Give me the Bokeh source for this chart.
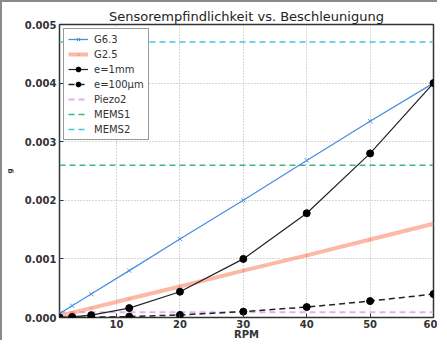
from bokeh.plotting import figure
from bokeh.models import FixedTicker, NumeralTickFormatter, Range1d, Legend, LegendItem
from bokeh.embed import file_html
from bokeh.resources import INLINE

rpm = [1, 3, 6, 12, 20, 30, 40, 50, 60]
g63 = [0.000067, 0.0002, 0.0004, 0.0008, 0.00134, 0.002, 0.00268, 0.00335, 0.004]
g25 = [0.000027, 0.00008, 0.00016, 0.00032, 0.00053, 0.0008, 0.00106, 0.00133, 0.0016]
e1mm = [0.000001, 0.00001, 0.00004, 0.00016, 0.00044, 0.001, 0.00178, 0.0028, 0.004]
e100um = [0.0000001, 0.000001, 0.000004, 0.000016, 0.000044, 0.0001, 0.000178, 0.00028, 0.0004]
piezo2 = 0.00009
mems1 = 0.0026
mems2 = 0.0047
x_ticks = [10, 20, 30, 40, 50, 60]
y_ticks = [0.0, 0.001, 0.002, 0.003, 0.004, 0.005]

FONT = "DejaVu Sans"

p = figure(width=437, height=340, output_backend="svg", toolbar_location=None,
           x_range=Range1d(1, 60), y_range=Range1d(0, 0.005),
           min_border_left=47, min_border_right=6, min_border_top=22, min_border_bottom=0,
           title="Sensorempfindlichkeit vs. Beschleunigung")
p.styles = {"border-left": "2px solid #8a8a8a", "border-top": "2px solid #8a8a8a"}
p.title.text_font = FONT
p.title.text_font_size = "13px"
p.title.text_font_style = "normal"
p.title.text_color = "#222222"
p.title.align = "center"
p.title.offset = 0
p.title.standoff = 2

p.outline_line_color = "#333333"
p.outline_line_width = 1.5

for ax in (p.xaxis[0], p.yaxis[0]):
    ax.major_label_text_font = FONT
    ax.major_label_text_font_size = "10px"
    ax.major_label_text_font_style = "bold"
    ax.major_label_text_color = "#333333"
    ax.axis_line_color = None
    ax.major_tick_in = 4
    ax.major_tick_out = 0
    ax.minor_tick_line_color = None
    ax.major_tick_line_color = "#333333"
    ax.axis_label_text_font = FONT
    ax.axis_label_text_font_size = "10px"
    ax.axis_label_text_font_style = "bold"
    ax.axis_label_text_color = "#333333"

p.xaxis[0].ticker = FixedTicker(ticks=x_ticks)
p.yaxis[0].ticker = FixedTicker(ticks=y_ticks)
p.yaxis[0].formatter = NumeralTickFormatter(format="0.000")
p.xaxis[0].axis_label = "RPM"
p.yaxis[0].axis_label = "g"
p.yaxis[0].axis_label_text_font_size = "7px"
p.xaxis[0].axis_label_standoff = -2
p.yaxis[0].axis_label_standoff = 8
p.xaxis[0].major_label_standoff = 2
p.yaxis[0].major_label_standoff = 3

p.grid.grid_line_color = "#b0b0b0"
p.grid.grid_line_dash = "1 2"
p.grid.grid_line_width = 1

pz = p.line([1, 60], [piezo2, piezo2], line_color="#dcb4ec", line_width=2, line_dash="6 4")
m1 = p.line([1, 60], [mems1, mems1], line_color="#3cb878", line_width=1.5, line_dash="6 4")
m2 = p.line([1, 60], [mems2, mems2], line_color="#3cc8e0", line_width=1.5, line_dash="6 4")

g25l = p.line(rpm, g25, line_color="#f88a6a", line_width=4, line_alpha=0.6)
g25m = p.scatter(rpm, g25, marker="x", size=5, line_color="#f88a6a", line_alpha=0.6)
g63l = p.line(rpm, g63, line_color="#4a8ee0", line_width=1.3)
g63m = p.scatter(rpm, g63, marker="x", size=6, line_color="#4a8ee0", line_width=1)
e1l = p.line(rpm, e1mm, line_color="#222222", line_width=1.2)
e1m = p.scatter(rpm, e1mm, marker="circle", size=7, fill_color="black", line_color="black")
e2l = p.line(rpm, e100um, line_color="#222222", line_width=1.5, line_dash="6 4")
e2m = p.scatter(rpm, e100um, marker="circle", size=7, fill_color="black", line_color="black")

legend = Legend(items=[
    LegendItem(label="G6.3", renderers=[g63l, g63m]),
    LegendItem(label="G2.5", renderers=[g25l, g25m]),
    LegendItem(label="e=1mm", renderers=[e1l, e1m]),
    LegendItem(label="e=100μm", renderers=[e2l, e2m]),
    LegendItem(label="Piezo2", renderers=[pz]),
    LegendItem(label="MEMS1", renderers=[m1]),
    LegendItem(label="MEMS2", renderers=[m2]),
], location="top_left")
legend.label_text_font = FONT
legend.label_text_font_size = "10px"
legend.label_text_color = "#333333"
legend.label_height = 12
legend.glyph_height = 12
legend.glyph_width = 20
legend.spacing = 3
legend.padding = 4
legend.margin = 4
legend.label_standoff = 6
legend.border_line_color = "#333333"
legend.border_line_width = 1.5
legend.background_fill_alpha = 1
p.add_layout(legend)

open("out.html", "w").write(file_html(p, INLINE))
